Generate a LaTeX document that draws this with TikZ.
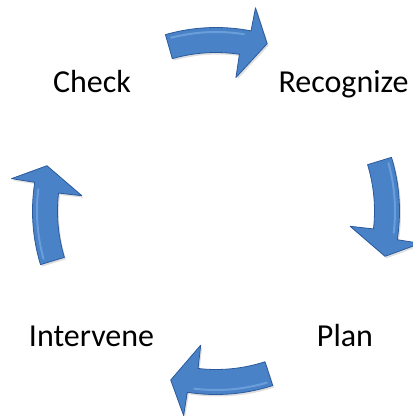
\documentclass[tikz,border=0pt]{standalone}
\usepackage{fontspec}
\setmainfont{Carlito}
\usetikzlibrary{shadows}
\definecolor{arrowfill}{RGB}{74,130,200}
\definecolor{arrowedge}{RGB}{42,90,156}
\definecolor{arrowlight}{RGB}{120,170,228}
\tikzset{
  cyclabel/.style={font=\fontsize{32}{36}\selectfont, anchor=base, inner sep=0pt},
  cycarrowstyle/.style={fill=arrowfill, draw=arrowedge, line width=0.8pt, line join=round,
    drop shadow={shadow xshift=1.5pt, shadow yshift=-2pt, opacity=0.25}}
}
% #1 tail angle, #2 tip angle (clockwise, decreasing)
\newcommand\cycarrow[2]{%
  \pgfmathsetmacro\hbo{#2+6}%
  \pgfmathsetmacro\hbi{#2+8.5}%
  \path[cycarrowstyle]
    (#1:183.5) arc[start angle=#1, end angle=\hbo, radius=183.5]
    -- (\hbo:207) -- (#2:175) -- (\hbi:135) -- (\hbi:158.5)
    arc[start angle=\hbi, end angle=#1, radius=158.5] -- cycle;
  \pgfmathsetmacro\hl{#1-1.5}%
  \pgfmathsetmacro\hle{#2+8}%
  \draw[arrowlight, line width=2pt, line cap=round, opacity=0.7]
    (\hl:179) arc[start angle=\hl, end angle=\hle, radius=179];
}
\begin{document}
\begin{tikzpicture}[x=1pt,y=1pt]
\useasboundingbox (0,0) rectangle (413,-416);
\begin{scope}[shift={(216,-211)}]
  \cycarrow{106}{73}
  \cycarrow{17}{-15}
  \cycarrow{-72}{-105}
  \cycarrow{197}{165}
\end{scope}
\node[cyclabel] (check) at (92,-92) {Check};
\node[cyclabel] (recognize) at (343.5,-92) {Recognize};
\node[cyclabel] (intervene) at (91.5,-346) {Intervene};
\node[cyclabel] (plan) at (345,-346) {Plan};
\end{tikzpicture}
\end{document}
